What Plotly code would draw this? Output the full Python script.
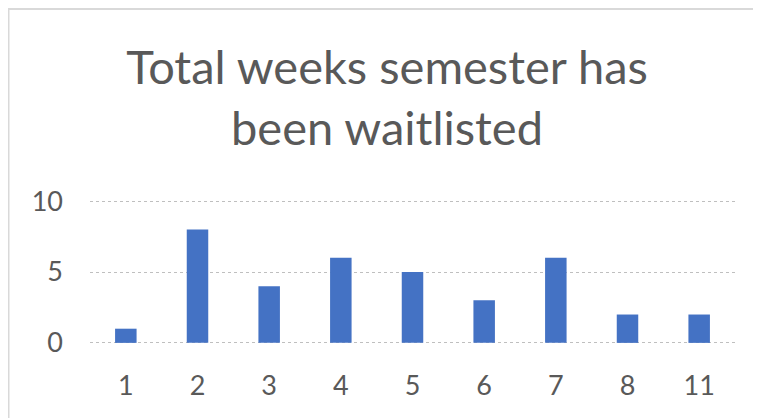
import plotly.graph_objects as go

categories = ["1", "2", "3", "4", "5", "6", "7", "8", "11"]
values = [1, 8, 4, 6, 5, 3, 6, 2, 2]
y_ticks = [0, 5, 10]
title_text = "Total weeks semester has<br>been waitlisted"

# page has an 8px body margin, so the figure is drawn 8px smaller
W, H = 753, 410
PAD = 0.15  # small padding so the 0 and 10 gridlines are drawn
L, R, T, B = 82, 26, 191, 73
pw, ph = W - L - R, H - T - B

fig = go.Figure(go.Bar(x=categories, y=values, marker=dict(color="#4472C4", line=dict(width=0))))

fig.update_layout(
    width=W, height=H,
    margin=dict(l=L, r=R, t=T, b=B),
    paper_bgcolor="white", plot_bgcolor="white",
    bargap=0.7,
    showlegend=False,
    font=dict(family="Lato", color="#595959"),
    title=dict(text=title_text, xref="container", yref="container",
               x=379/W, xanchor="center", y=1 - 76/H, yanchor="top",
               font=dict(size=47, color="#595959", family="Lato")),
)
fig.update_xaxes(type="category", showgrid=False, showline=False, zeroline=False,
                 tickfont=dict(size=27, color="#595959"), ticks="", ticklabelstandoff=22)
fig.update_yaxes(range=[-PAD, 10 + PAD], tickvals=y_ticks, showgrid=True, gridcolor="#bfbfbf",
                 griddash="dot", gridwidth=1, zeroline=False, showline=False,
                 tickfont=dict(size=27, color="#595959"), ticks="", ticklabelstandoff=26)

fig.add_shape(type="rect", xref="paper", yref="paper",
              x0=(0.5 - L) / pw, x1=2, y0=-1, y1=(H - B - 1) / ph,
              line=dict(color="#d9d9d9", width=2), fillcolor="rgba(0,0,0,0)", layer="below")

fig.write_html("out.html")
